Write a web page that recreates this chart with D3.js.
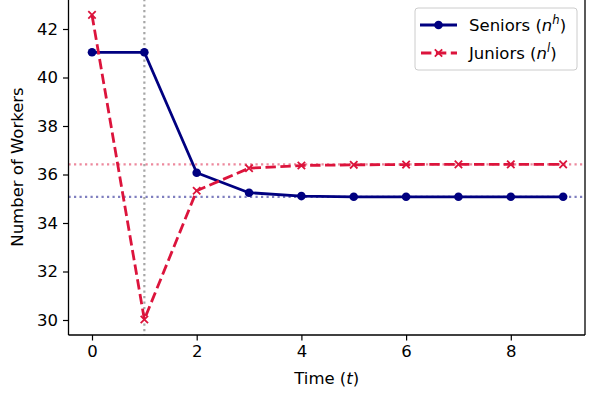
<!DOCTYPE html>
<html><head><meta charset="utf-8">
<script src="https://cdn.jsdelivr.net/npm/d3@7"></script>
<style>body{margin:0;background:#fff}svg{display:block}text{font-family:"DejaVu Sans",sans-serif}</style>
</head><body><svg id="c" width="591" height="393"></svg>
<script>
const time = [0,1,2,3,4,5,6,7,8,9];
const seniors = [41.04,41.04,36.07,35.25,35.11,35.08,35.08,35.08,35.08,35.08];
const juniors = [42.58,30.02,35.33,36.26,36.37,36.40,36.41,36.42,36.42,36.42];
const seniorsSteady = 35.08;
const juniorsSteady = 36.42;
const shockTime = 1;
const xTicks = [0,2,4,6,8];
const yTicks = [30,32,34,36,38,40,42];
const legendLabels = [["Seniors (","n","h",")"],["Juniors (","n","l",")"]];

const FS = 16.5;
const svg = d3.select("#c");
const L=68.5, R=585, T=-1, B=335;
const x = d3.scaleLinear().domain([0,2]).range([92,196.7]);
const y = d3.scaleLinear().domain([30,42]).range([320,29]);

// reference lines
svg.append("line").attr("x1",L).attr("x2",R).attr("y1",y(juniorsSteady)).attr("y2",y(juniorsSteady))
  .attr("stroke","#DC143C").attr("stroke-opacity",0.5).attr("stroke-width",2.2).attr("stroke-dasharray","2.2,3.3");
svg.append("line").attr("x1",L).attr("x2",R).attr("y1",y(seniorsSteady)).attr("y2",y(seniorsSteady))
  .attr("stroke","#000080").attr("stroke-opacity",0.5).attr("stroke-width",2.2).attr("stroke-dasharray","2.2,3.3");
svg.append("line").attr("x1",x(shockTime)).attr("x2",x(shockTime)).attr("y1",T).attr("y2",B)
  .attr("stroke","gray").attr("stroke-opacity",0.7).attr("stroke-width",2.2).attr("stroke-dasharray","2.2,3.3");

const line = d3.line().x((d,i)=>x(time[i])).y(d=>y(d));
svg.append("path").datum(seniors).attr("d",line).attr("fill","none").attr("stroke","#000080").attr("stroke-width",2.8).attr("stroke-linejoin","round");
svg.selectAll(".dot").data(seniors).enter().append("circle").attr("cx",(d,i)=>x(time[i])).attr("cy",d=>y(d)).attr("r",4.3).attr("fill","#000080");
svg.append("path").datum(juniors).attr("d",line).attr("fill","none").attr("stroke","#DC143C").attr("stroke-width",2.8).attr("stroke-dasharray","10.4,4.5");
const xm = (g,cx,cy,s)=>g.append("path").attr("d",`M${cx-s},${cy-s}L${cx+s},${cy+s}M${cx-s},${cy+s}L${cx+s},${cy-s}`).attr("stroke","#DC143C").attr("stroke-width",1.8).attr("fill","none");
juniors.forEach((d,i)=>xm(svg,x(time[i]),y(d),3.7));

// axes
const gx = svg.append("g").attr("transform",`translate(0,${B})`).call(d3.axisBottom(x).tickValues(xTicks).tickSize(5.5).tickPadding(5).tickFormat(d3.format("d")));
const gy = svg.append("g").attr("transform",`translate(${L},0)`).call(d3.axisLeft(y).tickValues(yTicks).tickSize(5.5).tickPadding(5).tickFormat(d3.format("d")));
[gx,gy].forEach(g=>{g.select(".domain").remove();g.selectAll("text").attr("font-size",FS).attr("fill","#000").attr("font-family","DejaVu Sans");g.selectAll("line").attr("stroke","#000").attr("stroke-width",1.2);});
svg.append("line").attr("x1",L).attr("x2",R).attr("y1",B).attr("y2",B).attr("stroke","#000").attr("stroke-width",1.3);
svg.append("line").attr("x1",L).attr("x2",L).attr("y1",T).attr("y2",B).attr("stroke","#000").attr("stroke-width",1.3);
svg.append("line").attr("x1",R).attr("x2",R).attr("y1",T).attr("y2",B).attr("stroke","#000").attr("stroke-width",1.3);

// axis labels
const xl = svg.append("text").attr("x",(L+R)/2).attr("y",384).attr("text-anchor","middle").attr("font-size",FS);
xl.append("tspan").text("Time (");xl.append("tspan").attr("font-style","italic").text("t");xl.append("tspan").text(")");
svg.append("text").attr("transform",`translate(23,${(T+B)/2}) rotate(-90)`).attr("text-anchor","middle").attr("font-size",FS).text("Number of Workers");

// legend
const lg = svg.append("g");
lg.append("rect").attr("x",415).attr("y",8).attr("width",162).attr("height",62).attr("rx",3).attr("fill","#fff").attr("fill-opacity",0.8).attr("stroke","#ccc").attr("stroke-width",1);
const ly=[25,53];
lg.append("line").attr("x1",420).attr("x2",457).attr("y1",ly[0]).attr("y2",ly[0]).attr("stroke","#000080").attr("stroke-width",2.8);
lg.append("circle").attr("cx",438.5).attr("cy",ly[0]).attr("r",4.3).attr("fill","#000080");
lg.append("line").attr("x1",421).attr("x2",457).attr("y1",ly[1]).attr("y2",ly[1]).attr("stroke","#DC143C").attr("stroke-width",2.8).attr("stroke-dasharray","10.4,4.5");
xm(lg,438.5,ly[1],3.7);
legendLabels.forEach((p,i)=>{
  const t=lg.append("text").attr("x",469).attr("y",ly[i]+6).attr("font-size",FS);
  t.append("tspan").text(p[0]);
  t.append("tspan").attr("font-style","italic").text(p[1]);
  t.append("tspan").attr("font-style","italic").attr("font-size",FS*0.7).attr("dy",-7).text(p[2]);
  t.append("tspan").attr("dy",7).text(p[3]);
});
</script></body></html>
